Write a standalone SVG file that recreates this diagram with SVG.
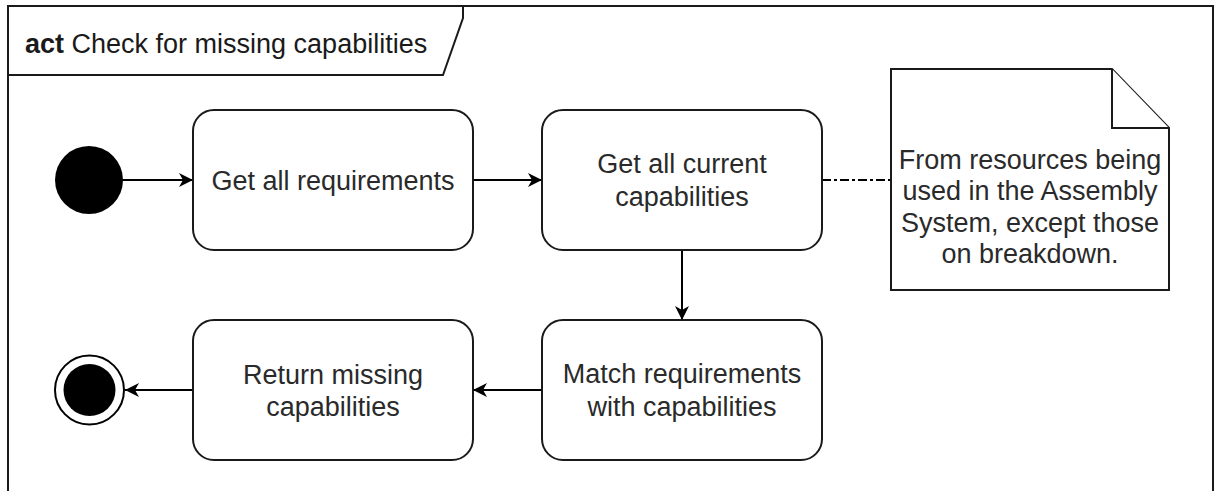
<svg xmlns="http://www.w3.org/2000/svg" width="1215" height="491" viewBox="0 0 1215 491">
  <style>
    .frame { fill: none; stroke: #1a1a1a; stroke-width: 2; }
    .tab { fill: #ffffff; stroke: #1a1a1a; stroke-width: 2; }
    .action { fill: #ffffff; stroke: #1a1a1a; stroke-width: 2; }
    .note { fill: #ffffff; stroke: #1a1a1a; stroke-width: 2; stroke-linejoin: miter; }
    .flow { fill: none; stroke: #000000; stroke-width: 2; }
    .anchor { fill: none; stroke: #000000; stroke-width: 2; stroke-dasharray: 9 3 3 3; }
    .label { font-family: "Liberation Sans", Arial, sans-serif; font-size: 27px; fill: #2a2a2a; text-anchor: middle; }
    .title { font-family: "Liberation Sans", Arial, sans-serif; font-size: 27px; fill: #1a1a1a; }
  </style>
  <defs>
    <marker id="arrow" markerUnits="userSpaceOnUse" markerWidth="16" markerHeight="16" refX="14" refY="7" orient="auto">
      <path d="M0,0 L14,7 L0,14 L4,7 Z" fill="#000000"/>
    </marker>
  </defs>

  <rect width="1215" height="491" fill="#ffffff"/>

  <!-- activity frame -->
  <g id="frame">
    <path class="frame" d="M8,491 L8,6 L1213,6 L1213,491"/>
    <path class="tab" d="M8,6 L463,6 L463,18 L443,75 L8,75 Z"/>
    <text class="title" x="25" y="53"><tspan font-weight="bold">act</tspan> Check for missing capabilities</text>
  </g>

  <!-- connectors -->
  <g id="connectors">
    <line class="flow" x1="123" y1="180" x2="193" y2="180" marker-end="url(#arrow)"/>
    <line class="flow" x1="473" y1="180" x2="542" y2="180" marker-end="url(#arrow)"/>
    <line class="flow" x1="682" y1="250" x2="682" y2="320" marker-end="url(#arrow)"/>
    <line class="flow" x1="542" y1="390" x2="473" y2="390" marker-end="url(#arrow)"/>
    <line class="flow" x1="193" y1="390" x2="125" y2="390" marker-end="url(#arrow)"/>
    <line class="anchor" x1="822" y1="180" x2="891" y2="180"/>
  </g>

  <g id="initial">
    <circle cx="89" cy="180" r="34" fill="#000000"/>
  </g>

  <g id="get-requirements">
    <rect class="action" x="193" y="110" width="280" height="140" rx="21" ry="21"/>
    <text class="label" x="333" y="190">Get all requirements</text>
  </g>

  <g id="get-capabilities">
    <rect class="action" x="542" y="110" width="280" height="140" rx="21" ry="21"/>
    <text class="label" x="682" y="173">Get all current</text>
    <text class="label" x="682" y="206">capabilities</text>
  </g>

  <g id="note">
    <path class="note" d="M891,69 L1112,69 L1169,128 L1169,290 L891,290 Z"/>
    <path class="note" d="M1112,69 L1112,128 L1169,128"/>
    <text class="label" x="1030" y="169">From resources being</text>
    <text class="label" x="1030" y="200">used in the Assembly</text>
    <text class="label" x="1030" y="232">System, except those</text>
    <text class="label" x="1030" y="263">on breakdown.</text>
  </g>

  <g id="match">
    <rect class="action" x="542" y="320" width="280" height="140" rx="21" ry="21"/>
    <text class="label" x="682" y="383">Match requirements</text>
    <text class="label" x="682" y="416">with capabilities</text>
  </g>

  <g id="return-missing">
    <rect class="action" x="193" y="320" width="280" height="140" rx="21" ry="21"/>
    <text class="label" x="333" y="384">Return missing</text>
    <text class="label" x="333" y="416">capabilities</text>
  </g>

  <g id="final">
    <circle cx="89.5" cy="390" r="34.5" fill="#ffffff" stroke="#000000" stroke-width="2"/>
    <circle cx="89.5" cy="390" r="26" fill="#000000"/>
  </g>
</svg>
